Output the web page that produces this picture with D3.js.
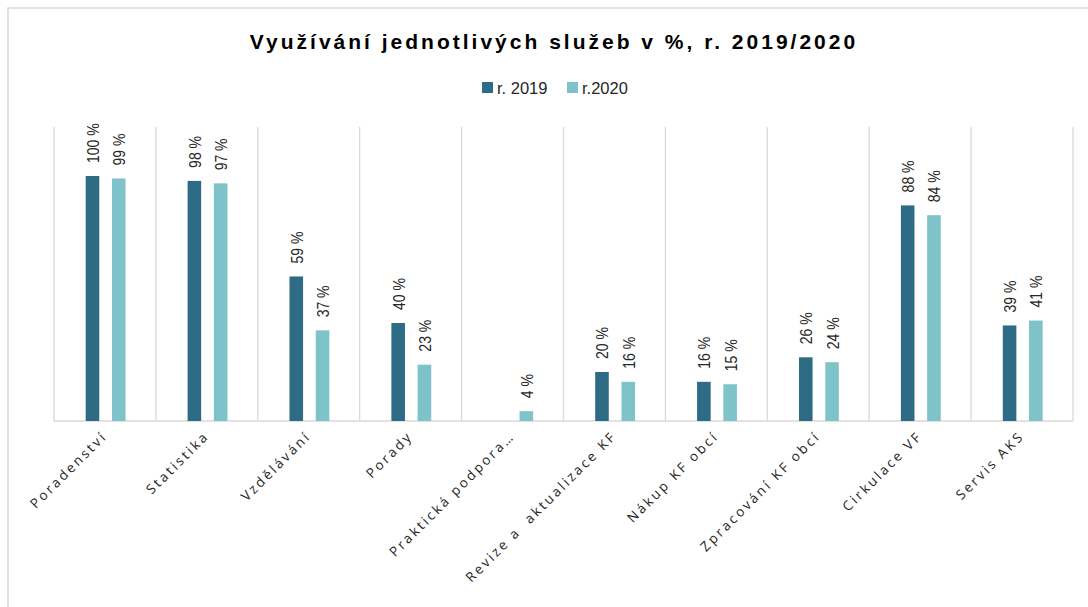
<!DOCTYPE html>
<html><head><meta charset="utf-8">
<script src="https://cdn.jsdelivr.net/npm/d3@7"></script>
<style>
html,body{margin:0;padding:0;background:#fff;}
svg{display:block;}
</style></head>
<body>
<script>
const categories = ["Poradenství","Statistika","Vzdělávání","Porady","Praktická podpora…","Revize a  aktualizace KF","Nákup KF obcí","Zpracování KF obcí","Cirkulace VF","Servis AKS"];
const series = ["r. 2019","r.2020"];
const values2019 = [100,98,59,40,null,20,16,26,88,39];
const values2020 = [99,97,37,23,4,16,15,24,84,41];
const colors = ["#2e6b85","#7fc3ca"];
const titleText = "Využívání jednotlivých služeb v %, r. 2019/2020";

const W = 1088, H = 607;
const svg = d3.select("body").append("svg").attr("width", W).attr("height", H);
svg.append("rect").attr("x",8).attr("y",8).attr("width",W+20).attr("height",H+20)
  .attr("fill","#fff").attr("stroke","#d9d9d9").attr("stroke-width",1.5);

const pLeft = 54, pRight = 1073, pTop = 127, pBottom = 421;
const x0 = d3.scaleBand().domain(categories).range([pLeft, pRight]).paddingInner(0).paddingOuter(0);
const bw = x0.bandwidth();
const x1 = d3.scaleBand().domain(series).range([bw*0.311, bw*0.702]).paddingInner(0.483).paddingOuter(0);
const y = d3.scaleLinear().domain([0,120]).range([pBottom, pTop]);

// category separators
const bounds = categories.map(c => x0(c)).concat([pRight]);
svg.append("g").selectAll("line").data(bounds).join("line")
  .attr("x1", d=>d).attr("x2", d=>d).attr("y1", pTop).attr("y2", pBottom)
  .attr("stroke","#d9d9d9").attr("stroke-width",1.3);
svg.append("line").attr("x1",pLeft).attr("x2",pRight).attr("y1",pBottom).attr("y2",pBottom)
  .attr("stroke","#d9d9d9").attr("stroke-width",1.5);

const rows = [];
categories.forEach((c,i) => {
  rows.push({c, s: series[0], v: values2019[i], col: colors[0]});
  rows.push({c, s: series[1], v: values2020[i], col: colors[1]});
});
const valid = rows.filter(d => d.v != null);

svg.append("g").selectAll("rect").data(valid).join("rect")
  .attr("x", d => x0(d.c) + x1(d.s))
  .attr("y", d => y(d.v))
  .attr("width", x1.bandwidth())
  .attr("height", d => pBottom - y(d.v))
  .attr("fill", d => d.col);

svg.append("g").selectAll("text").data(valid).join("text")
  .attr("transform", d => `translate(${x0(d.c) + x1(d.s) + x1.bandwidth()/2 + 6.5},${y(d.v) - 13}) scale(1.2,1) rotate(-90)`)
  .attr("text-anchor","start")
  .attr("font-family","'Liberation Sans', Arial, sans-serif")
  .attr("font-size",14).attr("fill","#262626")
  .text(d => d.v + " %");

// category labels
svg.append("g").selectAll("text").data(categories).join("text")
  .attr("transform", d => `translate(${x0(d) + bw/2 + 3},${pBottom + 16}) rotate(-45)`)
  .attr("text-anchor","end")
  .attr("font-family","'Open Sans', 'Liberation Sans', sans-serif")
  .attr("font-size",13.5).attr("letter-spacing","2.5px").attr("fill","#262626")
  .style("white-space","pre")
  .text(d => d);

// title
svg.append("text").attr("x", 554).attr("y", 49).attr("text-anchor","middle")
  .attr("font-family","'Liberation Sans', Arial, sans-serif")
  .attr("font-size",21).attr("font-weight","bold").attr("letter-spacing","3px").attr("fill","#000")
  .text(titleText);

// legend
const legX = [482, 567];
const lg = svg.append("g").selectAll("g").data(series).join("g")
  .attr("transform", (d,i) => `translate(${legX[i]},82)`);
lg.append("rect").attr("width",11).attr("height",11).attr("fill",(d,i)=>colors[i]);
lg.append("text").attr("x",15).attr("y",11.5).attr("font-family","'Liberation Sans', Arial, sans-serif")
  .attr("font-size",16.5).attr("fill","#262626").text(d=>d);
</script>
</body></html>
